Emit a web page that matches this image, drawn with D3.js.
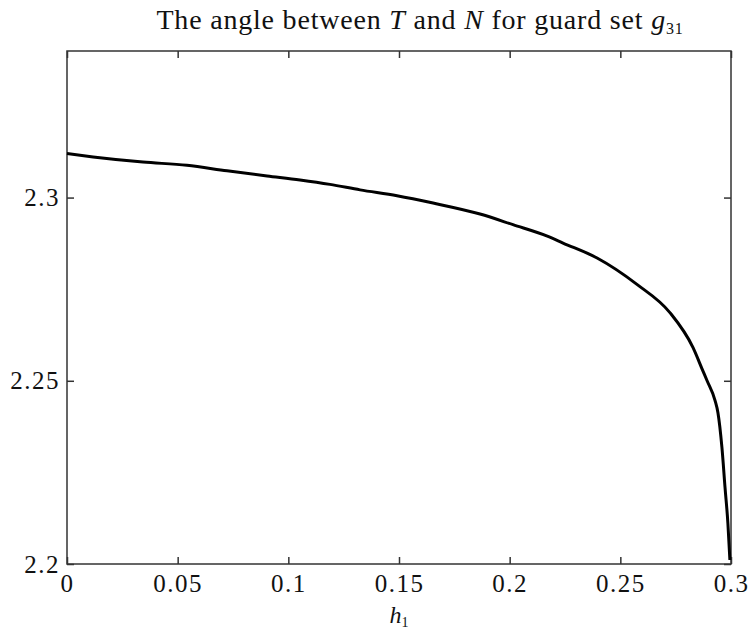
<!DOCTYPE html>
<html>
<head>
<meta charset="utf-8">
<script src="https://cdn.jsdelivr.net/npm/d3@7"></script>
<style>
  html, body { margin: 0; padding: 0; background: #fff; }
  svg { display: block; }
</style>
</head>
<body>
<svg id="chart" width="754" height="633" font-family="Liberation Serif"></svg>
<script>
// Data
const h1Values = [0, 0.0118, 0.0343, 0.0542, 0.0723, 0.0904, 0.1053, 0.1188, 0.1324, 0.1491, 0.1654, 0.1866, 0.2015, 0.2173, 0.2241, 0.2395, 0.2575, 0.2724, 0.2828, 0.2873, 0.2892, 0.2928, 0.2941, 0.2959, 0.2973, 0.2986, 0.2995];
const angleValues = [2.3120, 2.3111, 2.3097, 2.3088, 2.3073, 2.3059, 2.3048, 2.3036, 2.3021, 2.3005, 2.2985, 2.2955, 2.2926, 2.2894, 2.2876, 2.2835, 2.2763, 2.2686, 2.2591, 2.2527, 2.2500, 2.2446, 2.2413, 2.2318, 2.2209, 2.2111, 2.2011];
const xTicks = [0, 0.05, 0.1, 0.15, 0.2, 0.25, 0.3];
const xTickLabels = ["0", "0.05", "0.1", "0.15", "0.2", "0.25", "0.3"];
const yTicks = [2.2, 2.25, 2.3];
const yTickLabels = ["2.2", "2.25", "2.3"];
const xDomain = [0, 0.3];
const yDomain = [2.2, 2.34];

const svg = d3.select("#chart");
const L = 67, R = 731, T = 51, B = 564;
const FONT = "Liberation Serif";

const x = d3.scaleLinear().domain(xDomain).range([L, R]);
const y = d3.scaleLinear().domain(yDomain).range([B, T]);

const axisColor = "#333";
const tickLen = 7;

// Frame
svg.append("rect")
  .attr("x", L).attr("y", T).attr("width", R - L).attr("height", B - T)
  .attr("fill", "none").attr("stroke", axisColor).attr("stroke-width", 1.5);

const gx = svg.append("g").attr("transform", `translate(0,${B})`)
  .call(d3.axisBottom(x).tickValues(xTicks).tickSizeInner(-tickLen).tickSizeOuter(0)
    .tickFormat((d, i) => xTickLabels[i]).tickPadding(10));
const gxt = svg.append("g").attr("transform", `translate(0,${T})`)
  .call(d3.axisTop(x).tickValues(xTicks).tickSizeInner(-tickLen).tickSizeOuter(0).tickFormat(""));
const gy = svg.append("g").attr("transform", `translate(${L},0)`)
  .call(d3.axisLeft(y).tickValues(yTicks).tickSizeInner(-tickLen).tickSizeOuter(0)
    .tickFormat((d, i) => yTickLabels[i]).tickPadding(7));
const gyr = svg.append("g").attr("transform", `translate(${R},0)`)
  .call(d3.axisRight(y).tickValues(yTicks).tickSizeInner(-tickLen).tickSizeOuter(0).tickFormat(""));

[gx, gxt, gy, gyr].forEach(g => {
  g.attr("font-family", FONT).attr("font-size", 25);
  g.select(".domain").remove();
  g.selectAll(".tick line").attr("stroke", axisColor).attr("stroke-width", 1.5);
  g.selectAll(".tick text")
    .attr("font-family", FONT)
    .attr("letter-spacing", 1.5)
    .attr("fill", "#111");
});
gx.selectAll(".tick text").attr("dy", "0.71em");

// Curve
const pts = h1Values.map((h, i) => [h, angleValues[i]]);
svg.append("path")
  .datum(pts)
  .attr("fill", "none")
  .attr("stroke", "#000")
  .attr("stroke-width", 3)
  .attr("stroke-linejoin", "round")
  .attr("d", d3.line().x(d => x(d[0])).y(d => y(d[1])).curve(d3.curveMonotoneX));

// Title
const title = svg.append("text")
  .attr("x", 420).attr("y", 29)
  .attr("text-anchor", "middle")
  .attr("font-family", FONT)
  .attr("font-size", 28)
  .attr("letter-spacing", 0.8)
  .attr("fill", "#111");
title.append("tspan").text("The angle between ");
title.append("tspan").attr("font-style", "italic").text("T");
title.append("tspan").text(" and ");
title.append("tspan").attr("font-style", "italic").text("N");
title.append("tspan").text(" for guard set ");
title.append("tspan").attr("font-style", "italic").text("g");
title.append("tspan").attr("dy", 5).attr("font-size", 16).text("31");

// X label
const xl = svg.append("text")
  .attr("x", (L + R) / 2).attr("y", 623)
  .attr("text-anchor", "middle")
  .attr("font-family", FONT)
  .attr("font-size", 24)
  .attr("fill", "#111");
xl.append("tspan").attr("font-style", "italic").text("h");
xl.append("tspan").attr("dy", 4).attr("font-size", 14).text("1");
</script>
</body>
</html>
